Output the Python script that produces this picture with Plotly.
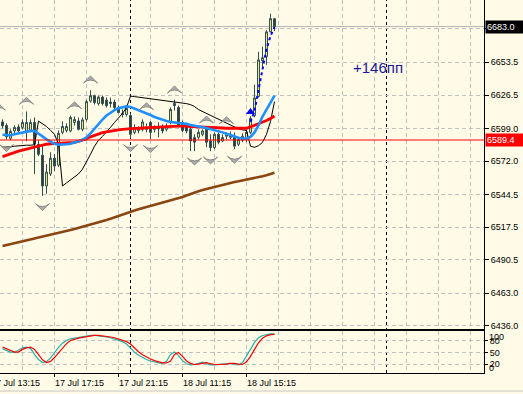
import plotly.graph_objects as go

# ---------------- data ----------------
bars = list(range(69))
opens = [6604.3, 6601.4, 6590.8, 6596.9, 6600.2, 6599.8, 6596.5, 6597.3, 6603.9, 6585.9,
         6576.9, 6551.5, 6561.4, 6574.4, 6568.7, 6595.7, 6597.3, 6596.9, 6603.9, 6605.1,
         6598.2, 6606.4, 6621.5, 6626.0, 6619.5, 6624.8, 6622.3, 6620.7, 6620.7, 6616.2,
         6611.3, 6610.5, 6609.6, 6595.7, 6597.3, 6598.2, 6599.8, 6603.9, 6598.2, 6599.8,
         6599.8, 6598.2, 6603.9, 6619.5, 6616.2, 6603.9, 6601.4, 6598.2, 6591.4, 6591.6,
         6594.1, 6598.2, 6588.6, 6583.2, 6594.1, 6588.6, 6592.5, 6594.1, 6592.5, 6585.9,
         6589.2, 6590.0, 6595.7, 6609.6, 6625.4, 6654.9, 6658.2, 6678.6, 6689.5]
highs = [6606.4, 6603.1, 6598.2, 6601.4, 6602.3, 6606.4, 6612.9, 6606.4, 6608.0, 6589.2,
         6585.1, 6569.5, 6579.3, 6577.7, 6597.3, 6604.7, 6603.1, 6609.6, 6608.8, 6608.0,
         6608.0, 6622.7, 6630.5, 6626.8, 6626.0, 6626.0, 6624.4, 6624.4, 6622.7, 6617.8,
         6614.6, 6617.8, 6611.3, 6602.3, 6600.6, 6606.4, 6603.1, 6605.0, 6601.4, 6603.9,
         6602.3, 6603.1, 6616.2, 6622.7, 6617.8, 6605.5, 6603.1, 6600.6, 6594.1, 6598.2,
         6598.2, 6600.6, 6594.1, 6595.7, 6595.7, 6594.1, 6595.7, 6596.5, 6595.7, 6591.6,
         6594.9, 6598.2, 6609.1, 6635.0, 6662.2, 6666.3, 6680.0, 6693.6, 6689.8]
lows = [6599.0, 6590.0, 6589.2, 6594.9, 6595.7, 6598.2, 6588.4, 6595.7, 6561.4, 6576.1,
        6543.4, 6545.0, 6559.7, 6563.8, 6567.1, 6594.1, 6595.7, 6595.7, 6601.4, 6597.3,
        6596.5, 6604.7, 6620.3, 6618.7, 6617.8, 6617.8, 6616.2, 6616.2, 6614.6, 6611.3,
        6608.0, 6608.8, 6590.0, 6594.1, 6594.9, 6596.5, 6595.7, 6590.0, 6595.7, 6591.6,
        6594.9, 6596.5, 6602.3, 6613.7, 6599.8, 6595.7, 6594.9, 6580.2, 6580.2, 6590.0,
        6592.5, 6583.5, 6580.2, 6581.8, 6585.9, 6587.6, 6590.0, 6590.0, 6581.8, 6584.3,
        6587.6, 6587.6, 6594.1, 6608.0, 6624.4, 6648.6, 6651.4, 6678.3, 6679.2]
closes = [6601.0, 6592.0, 6596.5, 6599.8, 6596.9, 6603.9, 6603.9, 6603.9, 6585.9, 6577.7,
          6551.5, 6563.0, 6574.4, 6567.9, 6594.9, 6600.6, 6600.6, 6608.0, 6606.4, 6598.2,
          6606.0, 6621.1, 6626.0, 6620.3, 6624.8, 6619.5, 6617.8, 6619.5, 6616.2, 6612.1,
          6610.5, 6615.4, 6594.1, 6599.4, 6598.6, 6604.3, 6598.2, 6595.7, 6599.4, 6598.6,
          6596.9, 6601.0, 6614.6, 6617.8, 6600.9, 6597.3, 6596.8, 6588.6, 6587.6, 6595.7,
          6596.9, 6587.6, 6583.2, 6594.1, 6587.6, 6591.4, 6594.1, 6591.6, 6584.3, 6590.0,
          6592.5, 6595.7, 6607.2, 6624.1, 6655.5, 6657.3, 6678.6, 6689.5, 6683.0]

ma_fast = [6593.7, 6593.3, 6593.3, 6594.1, 6594.9, 6595.7, 6596.5, 6596.9, 6596.8, 6594.9,
           6592.4, 6590.0, 6587.9, 6586.3, 6585.5, 6585.5, 6585.9, 6586.3, 6587.1, 6588.3,
           6589.6, 6591.6, 6594.9, 6599.0, 6602.7, 6606.3, 6609.6, 6612.1, 6614.1, 6615.6,
           6616.6, 6617.1, 6616.6, 6615.3, 6614.1, 6612.9, 6611.8, 6610.0, 6608.4, 6607.2,
           6605.9, 6605.0, 6604.3, 6603.9, 6603.6, 6603.6, 6602.7, 6601.8, 6601.0, 6600.6,
           6600.2, 6599.4, 6598.6, 6597.8, 6596.9, 6595.7, 6594.5, 6593.3, 6592.0, 6591.2,
           6590.6, 6590.4, 6592.0, 6595.7, 6601.4, 6608.8, 6614.5, 6620.3, 6626.0]
ma_mid = [6575.7, 6576.9, 6578.1, 6579.4, 6580.2, 6581.0, 6581.8, 6583.0, 6583.8, 6584.7,
          6585.5, 6585.9, 6586.3, 6586.5, 6586.5, 6586.3, 6586.5, 6586.9, 6587.5, 6588.3,
          6589.2, 6590.4, 6592.0, 6593.3, 6594.5, 6595.5, 6596.1, 6596.8, 6597.3, 6597.8,
          6598.2, 6598.6, 6598.7, 6599.0, 6599.1, 6599.4, 6599.6, 6599.6, 6599.8, 6600.0,
          6600.2, 6600.5, 6600.6, 6600.8, 6600.9, 6600.9, 6600.8, 6600.6, 6600.5, 6600.3,
          6600.1, 6600.0, 6599.8, 6599.6, 6599.5, 6599.3, 6599.1, 6599.0, 6598.8, 6598.7,
          6598.7, 6599.1, 6600.2, 6601.4, 6602.7, 6603.9, 6605.5, 6607.2, 6609.2]
ma_slow = [6502.0, 6502.7, 6503.4, 6504.1, 6504.8, 6505.7, 6506.5, 6507.4, 6508.2, 6509.0,
           6509.7, 6510.4, 6511.1, 6511.9, 6512.7, 6513.5, 6514.2, 6515.1, 6516.0, 6516.9,
           6517.8, 6518.6, 6519.4, 6520.2, 6521.0, 6522.2, 6523.4, 6524.5, 6525.7, 6526.8,
           6528.0, 6529.2, 6530.3, 6531.2, 6532.2, 6533.1, 6534.0, 6534.9, 6535.8, 6536.7,
           6537.6, 6538.5, 6539.4, 6540.2, 6541.1, 6542.4, 6543.6, 6544.9, 6546.2, 6547.1,
           6548.1, 6549.0, 6549.9, 6550.8, 6551.8, 6552.7, 6553.6, 6554.2, 6554.8, 6555.4,
           6556.0, 6556.7, 6557.4, 6558.0, 6558.6, 6559.5, 6560.4, 6561.4, 6562.3]
trail_line = [6583.4, 6583.4, 6583.8, 6584.3, 6584.7, 6585.1, 6585.1, 6585.1, 6585.5,
              6605.0, 6603.1, 6600.6, 6597.3, 6594.1, 6585.9,
              6551.5, 6554.0, 6556.4, 6558.9, 6561.4, 6565.4, 6571.2, 6577.7, 6584.3,
              6589.2, 6592.4, 6595.7, 6599.8, 6603.9, 6607.2, 6611.3, 6616.2,
              6625.6, 6625.2, 6624.8, 6624.4, 6623.9, 6623.5, 6623.1, 6622.7, 6622.3,
              6621.9, 6621.5, 6621.1, 6620.7, 6620.2, 6619.4, 6618.6, 6617.0, 6614.5,
              6612.9, 6611.3, 6609.6, 6608.0, 6606.3, 6604.7, 6603.1, 6601.4, 6599.8,
              6598.6, 6597.8, 6597.3,
              6584.3, 6583.4, 6584.7, 6587.5, 6594.1, 6604.7, 6621.1]
dot_bars = [62, 63, 64, 65, 66, 67, 68]
dot_vals = [6604.3, 6613.3, 6630.7, 6648.8, 6664.5, 6675.2, 6682.6]
signal_bar = [62]
signal_val = [6612.5]

frac_up_bars = [-1, 6, 18, 22, 36, 43, 51, 56]
frac_up_vals = [6619.7, 6624.7, 6621.0, 6642.2, 6620.2, 6634.0, 6609.2, 6608.6]
frac_dn_bars = [1, 10, 32, 37, 48, 52, 58]
frac_dn_vals = [6579.8, 6531.1, 6579.8, 6579.0, 6568.8, 6569.6, 6570.2]

stoch_main = [60, 55, 51, 50, 56, 62, 64, 60, 45, 32, 24, 26, 36, 50, 63, 74, 81, 85, 87, 89,
              91, 93, 94, 94, 93, 92, 90, 88, 85, 82, 78, 72, 61, 51, 43, 37, 32, 28, 25, 23,
              22, 27, 45, 51, 42, 29, 21, 18, 19, 22, 25, 21, 18, 18, 19, 20, 22, 22, 19, 18,
              24, 40, 58, 76, 88, 94, 97, 98, 98]
stoch_signal = [64, 60, 55, 51, 51, 58, 62, 64, 58, 43, 31, 24, 27, 37, 50, 62, 73, 81, 85, 87,
                89, 91, 93, 94, 94, 93, 92, 90, 88, 85, 82, 78, 72, 61, 52, 44, 38, 33, 29, 25,
                23, 23, 28, 45, 50, 40, 28, 22, 19, 20, 22, 24, 21, 19, 19, 19, 20, 22, 22, 20,
                19, 26, 40, 58, 75, 87, 93, 96, 97]

bid_price = 6683.0
level_price = 6589.4
price_ticks = [6681.0, 6653.5, 6626.5, 6599.0, 6572.0, 6544.5, 6517.5, 6490.5, 6463.0, 6436.0]
price_tick_text = ["", "6653.5", "6626.5", "6599.0", "6572.0", "6544.5", "6517.5", "6490.5", "6463.0", "6436.0"]
grid_bars = [5 + 8 * k for k in range(15)]
separator_bars = [32, 96]
time_tick_bars = [-3, 13, 29, 45, 61]
time_tick_text = ["17 Jul 13:15", "17 Jul 17:15", "17 Jul 21:15", "18 Jul 11:15", "18 Jul 15:15"]
stoch_levels = [80, 50, 20]
note_text = "+146пп"

# ---------------- styling ----------------
BG = "#FFFBE6"
GRID = "#C0C0C0"
FONT = "Tahoma, 'Liberation Sans', Arial, sans-serif"
XMIN, XMAX = -0.625, 120.375
YMIN, YMAX = 6433.5, 6704.9

fig = go.Figure()

fig.add_trace(go.Candlestick(
    x=bars, open=opens, high=highs, low=lows, close=closes,
    increasing=dict(line=dict(color="#2F4F4F", width=1), fillcolor="#F2EC8C"),
    decreasing=dict(line=dict(color="#2F4F4F", width=1), fillcolor="#3A3A3A"),
    whiskerwidth=0, showlegend=False, hoverinfo="skip", xaxis="x", yaxis="y"))

fig.add_trace(go.Scatter(x=bars, y=ma_slow, mode="lines", line=dict(color="#8B4513", width=2.6),
                         showlegend=False, hoverinfo="skip"))
fig.add_trace(go.Scatter(x=bars, y=trail_line, mode="lines", line=dict(color="#000000", width=1),
                         showlegend=False, hoverinfo="skip"))
fig.add_trace(go.Scatter(x=bars, y=ma_mid, mode="lines", line=dict(color="#FF0000", width=2.8),
                         showlegend=False, hoverinfo="skip"))
fig.add_trace(go.Scatter(x=bars, y=ma_fast, mode="lines", line=dict(color="#1E90FF", width=2.6),
                         showlegend=False, hoverinfo="skip"))
fig.add_trace(go.Scatter(x=dot_bars, y=dot_vals, mode="lines",
                         line=dict(color="#0000FF", width=2, dash="3px,3px"),
                         showlegend=False, hoverinfo="skip"))
fig.add_trace(go.Scatter(x=signal_bar, y=signal_val, mode="markers",
                         marker=dict(symbol="triangle-up", size=8, color="#0000FF"),
                         showlegend=False, hoverinfo="skip"))
fig.add_trace(go.Scatter(x=frac_up_bars, y=frac_up_vals, mode="markers",
                         marker=dict(symbol="arrow-wide", angle=0, size=10, color="#ABABAB",
                                     line=dict(color="#7A7A7A", width=0.8)),
                         showlegend=False, hoverinfo="skip"))
fig.add_trace(go.Scatter(x=frac_dn_bars, y=frac_dn_vals, mode="markers",
                         marker=dict(symbol="arrow-wide", angle=180, size=10, color="#ABABAB",
                                     line=dict(color="#7A7A7A", width=0.8)),
                         showlegend=False, hoverinfo="skip"))

# stochastic subwindow
fig.add_trace(go.Scatter(x=bars, y=stoch_main, mode="lines", line=dict(color="#20B2AA", width=1.2),
                         xaxis="x2", yaxis="y2", showlegend=False, hoverinfo="skip"))
fig.add_trace(go.Scatter(x=bars, y=stoch_signal, mode="lines", line=dict(color="#FF0000", width=1.2),
                         xaxis="x2", yaxis="y2", showlegend=False, hoverinfo="skip"))

shapes = []
for b in separator_bars:
    shapes.append(dict(type="line", xref="x", yref="paper", x0=b, x1=b, y0=0, y1=1,
                       line=dict(color="#000000", width=1, dash="3px,3px"), layer="below"))
shapes.append(dict(type="line", xref="paper", yref="y", x0=0, x1=1, y0=bid_price, y1=bid_price,
                   line=dict(color="#B4B4B4", width=1), layer="below"))
shapes.append(dict(type="line", xref="paper", yref="y", x0=0, x1=1, y0=level_price, y1=level_price,
                   line=dict(color="#FF0000", width=1), layer="above"))
shapes.append(dict(type="line", xref="paper", yref="paper", x0=0, x1=523 / 484, y0=-0.0483, y1=-0.0483,
                   line=dict(color="#C8C8C8", width=1), layer="above"))

annotations = [
    dict(xref="paper", yref="y", x=1, y=bid_price, xanchor="left", yanchor="middle",
         text="6683.0", showarrow=False, font=dict(family=FONT, size=9, color="#FFFFFF"),
         bgcolor="#000000", borderpad=1, width=36, align="left", xshift=1),
    dict(xref="paper", yref="y", x=1, y=level_price, xanchor="left", yanchor="middle",
         text="6589.4", showarrow=False, font=dict(family=FONT, size=9, color="#FFFFFF"),
         bgcolor="#FF0000", borderpad=1, width=36, align="left", xshift=1),
    dict(xref="paper", yref="y", x=378 / 484, y=6649.5, xanchor="center", yanchor="middle",
         text=note_text, showarrow=False, font=dict(family="'Liberation Sans', Arial", size=15, color="#1A1A9A")),
    dict(xref="paper", yref="y2", x=1, y=90, xanchor="left", yanchor="middle", text="100",
         showarrow=False, font=dict(family=FONT, size=9, color="#000000"), xshift=3),
    dict(xref="paper", yref="y2", x=1, y=11, xanchor="left", yanchor="middle", text="0",
         showarrow=False, font=dict(family=FONT, size=9, color="#000000"), xshift=3),
]
for b, t in zip(time_tick_bars, time_tick_text):
    px = (b - XMIN) / (XMAX - XMIN)
    annotations.append(dict(xref="paper", yref="paper", x=px, y=-0.0255, xanchor="left",
                            yanchor="middle", text=t, showarrow=False, xshift=-2,
                            font=dict(family=FONT, size=9, color="#000000")))

fig.update_layout(
    width=523, height=394,
    margin=dict(l=0, r=39, t=0, b=21),
    paper_bgcolor=BG, plot_bgcolor=BG,
    showlegend=False,
    shapes=shapes, annotations=annotations,
    xaxis=dict(domain=[0, 1], range=[XMIN, XMAX], anchor="y", tickmode="array", tickvals=grid_bars,
               showticklabels=False, ticks="", showgrid=True, gridcolor=GRID, griddash="4px,3px",
               gridwidth=1, zeroline=False, showline=True, linecolor="#000000", linewidth=1,
               rangeslider=dict(visible=False)),
    yaxis=dict(domain=[0.118, 1], range=[YMIN, YMAX], anchor="x", side="right", tickmode="array",
               tickvals=price_ticks, ticktext=price_tick_text, showgrid=True, gridcolor=GRID,
               griddash="4px,3px", gridwidth=1, zeroline=False, ticks="outside", ticklen=4,
               tickcolor="#000000", showline=True, linecolor="#000000", linewidth=1,
               tickfont=dict(family=FONT, size=9, color="#000000")),
    xaxis2=dict(domain=[0, 1], range=[XMIN, XMAX], anchor="y2", tickmode="array",
                tickvals=time_tick_bars[1:], showticklabels=False, ticks="outside", ticklen=3,
                tickcolor="#000000", showgrid=True, gridcolor=GRID, griddash="4px,3px",
                minor=dict(tickmode="array", tickvals=grid_bars, showgrid=True, gridcolor=GRID,
                           griddash="4px,3px", ticks=""),
                zeroline=False, showline=True, mirror=True, linecolor="#000000", linewidth=1),
    yaxis2=dict(domain=[0, 0.1126], range=[-3, 105.5], anchor="x2", side="right", tickmode="array",
                tickvals=stoch_levels, ticktext=[str(v) for v in stoch_levels], showgrid=True,
                gridcolor=GRID, griddash="4px,3px", zeroline=False, ticks="outside", ticklen=3,
                tickcolor="#000000", showline=True, linecolor="#000000", linewidth=1,
                tickfont=dict(family=FONT, size=9, color="#000000")),
)

fig.write_html("out.html", config={"displayModeBar": False, "staticPlot": True},
               post_script="document.body.style.margin='0px';document.body.style.background='" + BG + "';")
